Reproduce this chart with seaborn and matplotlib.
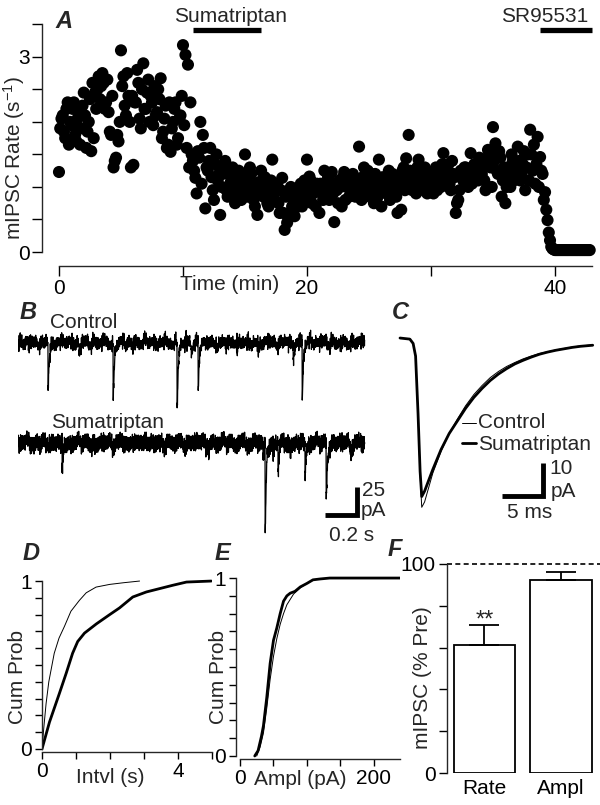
import numpy as np
import pandas as pd
import matplotlib
matplotlib.use("Agg")
import matplotlib.pyplot as plt
import seaborn as sns

# ---------------- data ----------------
# Panel A: mIPSC rate (s^-1). Two interleaved sample sets:
# rate_even at t = 0, 0.2, 0.4 ... min ; rate_odd at t = 0.1, 0.3, 0.5 ... min
rate_step_min = 0.2
rate_even = [
    1.23, 2.05, 1.85, 2.20, 1.65, 1.95, 2.30, 1.70, 2.15, 1.90,
    2.45, 1.60, 2.00, 1.55, 1.75, 2.20, 2.70, 2.55, 2.60, 2.30,
    2.15, 1.80, 1.30, 1.45, 1.70,
    3.10, 2.70, 2.10, 2.40, 1.30, 1.34, 2.30, 2.60, 1.90, 2.90,
    2.20, 2.65, 2.40, 1.95, 2.10, 2.50, 2.67, 1.85, 2.25, 1.65,
    1.54, 2.00, 2.30, 1.75, 2.10,
    3.18, 3.03, 2.88, 2.30, 1.40, 1.14, 1.55, 2.00, 1.80, 0.67,
    1.25, 1.60, 0.95, 1.35, 1.10, 0.57, 1.20, 1.40, 0.85, 1.05,
    1.30, 0.75, 1.15, 0.95, 1.20,
    1.50, 0.85, 1.30, 1.00, 0.70, 0.57, 1.08, 0.90, 1.15, 0.75,
    0.95, 1.42, 0.80, 1.05, 0.60, 1.14, 0.34, 0.45, 0.90, 0.70,
    0.55, 0.85, 1.00, 0.70, 1.10,
    1.42, 1.16, 0.75, 0.95, 1.05, 0.60, 0.90, 1.25, 1.00, 0.80,
    1.23, 0.46, 0.95, 1.10, 0.70, 1.23, 1.00, 0.85, 1.15, 0.90,
    1.10, 1.62, 0.80, 1.30, 1.00,
    0.95, 1.20, 0.75, 1.05, 1.42, 0.70, 1.10, 0.90, 1.25, 1.00,
    1.15, 0.85, 1.05, 0.65, 1.30, 1.44, 1.80, 1.00, 1.20, 0.90,
    1.42, 1.10, 0.95, 1.25, 1.05,
    1.20, 0.90, 1.30, 1.10, 1.00, 1.52, 1.15, 1.35, 0.95, 1.20,
    0.60, 0.80, 1.25, 1.10, 1.30, 1.00, 1.52, 1.20, 1.35, 1.10,
    1.25, 1.40, 0.95, 1.57, 1.30,
    1.92, 1.67, 1.20, 1.45, 1.10, 0.75, 1.30, 1.00, 1.40, 1.20,
    1.62, 1.10, 1.35, 0.95, 1.50, 1.88, 1.25, 1.05, 1.77, 1.46,
    1.20, 0.92, 0.49, 0.18, 0.05,
    0.03, 0.03, 0.03, 0.03, 0.03, 0.03, 0.03, 0.03, 0.03, 0.03,
    0.03, 0.03, 0.03, 0.03, 0.03,
]
rate_odd = [
    1.90, 2.10, 1.75, 2.30, 2.00, 2.20, 1.80, 2.05, 1.65, 2.25,
    2.10, 1.85, 2.35, 2.60, 2.45, 2.50, 2.35, 2.75, 2.20, 2.65,
    1.85, 2.40, 1.40, 1.80, 2.00,
    2.55, 2.25, 2.75, 2.00, 2.40, 2.30, 2.80, 2.05, 2.50, 2.20,
    2.45, 2.00, 2.30, 2.55, 2.15, 2.35, 1.75, 2.05, 1.60, 2.30,
    1.90, 2.20, 1.65, 2.05, 2.40,
    1.95, 1.60, 1.30, 1.50, 1.25, 0.90, 1.45, 1.05, 1.60, 1.30,
    1.40, 1.15, 0.80, 1.50, 1.20, 1.00, 1.30, 0.95, 1.20, 1.10,
    0.90, 1.05, 1.25, 0.80, 1.00,
    1.10, 0.95, 1.20, 0.80, 1.05, 0.90, 1.25, 0.85, 1.00, 0.70,
    1.10, 0.85, 1.00, 0.75, 0.95, 0.60, 0.85, 0.55, 1.00, 0.80,
    0.90, 0.70, 1.05, 0.80, 0.95,
    0.85, 1.10, 0.90, 0.70, 1.00, 1.05, 0.80, 0.95, 1.15, 0.85,
    0.90, 1.05, 0.75, 1.00, 1.15, 0.80, 1.05, 0.95, 1.20, 0.85,
    1.00, 0.90, 1.15, 0.85, 1.25,
    1.10, 0.90, 1.20, 0.85, 1.00, 1.15, 0.95, 1.05, 0.80, 1.20,
    0.90, 0.60, 1.10, 1.25, 0.95, 1.10, 1.25, 0.95, 1.15, 1.30,
    1.00, 1.20, 1.30, 0.90, 1.15,
    1.05, 1.25, 0.95, 1.20, 1.35, 1.10, 1.30, 1.05, 1.40, 1.15,
    0.75, 0.95, 1.15, 1.30, 1.20, 1.25, 1.05, 1.35, 1.15, 1.45,
    1.20, 1.10, 1.35, 1.50, 1.00,
    1.40, 1.25, 1.55, 0.85, 1.30, 1.00, 1.20, 1.50, 1.10, 1.35,
    1.40, 1.20, 1.55, 1.30, 1.10, 1.50, 1.65, 1.35, 1.00, 1.25,
    0.80, 0.65, 0.30, 0.08, 0.04,
    0.03, 0.03, 0.03, 0.03, 0.03, 0.03, 0.03, 0.03, 0.03, 0.03,
    0.03, 0.03, 0.03, 0.03,
]
sumatriptan_period = [10.8, 16.3]   # min
sr95531_period = [38.8, 43.0]       # min

# Panel B: events (time s, amplitude pA) in the two raw traces
ctrl_event_t = [0.06, 0.176, 0.31, 0.359, 0.559, 0.63, 0.935, 0.99, 1.018, 1.059,
                1.17, 1.288, 1.412, 1.618, 1.671, 1.90]
ctrl_event_a = [6, 44, 7, 10, 52, 6, 63, 8, 10, 42, 8, 11, 11, 16, 52, 6]
suma_event_t = [0.09, 0.259, 0.45, 0.83, 1.12, 1.44, 1.453, 1.50, 1.529, 1.60,
                1.688, 1.812, 1.95]
suma_event_a = [8, 25, 7, 6, 8, 14, 84, 13, 23, 10, 27, 53, 9]
trace_duration_s = 2.04

# Panel C: averaged mIPSCs (time ms, current pA)
avg_t = [0, 1.2, 1.6, 1.9, 2.2, 2.45, 2.65, 3.0, 3.5, 4, 5, 6, 7, 8, 9, 10,
         11, 12, 13, 14, 15, 16, 17, 18, 19, 20, 21, 22, 23.5]
avg_control = [0, -0.3, -1.5, -5, -22, -38, -47, -45.5, -41.5, -37.5, -31.5,
               -26.5, -22.5, -18.8, -15.7, -13.2, -11.0, -9.3, -7.9, -6.8,
               -5.8, -5.0, -4.3, -3.8, -3.3, -2.9, -2.5, -2.2, -1.9]
avg_suma = [0, -0.3, -1.5, -5, -21, -37, -44, -42.5, -39.5, -36.5, -31.0,
            -26.5, -23.0, -19.5, -16.5, -14.0, -11.8, -10.0, -8.5, -7.2,
            -6.2, -5.3, -4.5, -3.9, -3.4, -3.0, -2.6, -2.3, -2.0]

# Panel D: cumulative inter-event interval distributions
intvl_ctrl_x = [0, 0.05, 0.12, 0.2, 0.36, 0.5, 0.66, 0.85, 1.1, 1.3, 1.59, 1.99, 2.4, 2.87]
intvl_ctrl_y = [0, 0.12, 0.27, 0.40, 0.57, 0.66, 0.73, 0.82, 0.885, 0.93, 0.964, 0.98, 0.99, 1.0]
intvl_suma_x = [0, 0.22, 0.51, 0.71, 0.9, 1.05, 1.25, 1.6, 1.99, 2.28, 2.67, 3.07, 3.46, 3.85, 4.25, 4.98]
intvl_suma_y = [0, 0.16, 0.33, 0.45, 0.57, 0.64, 0.69, 0.745, 0.80, 0.84, 0.905, 0.935, 0.955, 0.975, 0.994, 1.0]

# Panel E: cumulative amplitude distributions
ampl_ctrl_x = [25, 30, 35, 40, 45, 50, 55, 60, 65, 70, 75, 80, 90, 100, 110, 120, 134, 150, 230]
ampl_ctrl_y = [0, 0.05, 0.13, 0.27, 0.43, 0.56, 0.66, 0.74, 0.80, 0.85, 0.88, 0.91, 0.945,
               0.97, 0.99, 0.995, 1.0, 1.0, 1.0]
ampl_suma_x = [22, 27, 32, 35, 40, 45, 50, 55, 60, 65, 70, 75, 82, 90, 100, 109, 120, 134, 150, 239]
ampl_suma_y = [0, 0.03, 0.11, 0.17, 0.33, 0.52, 0.65, 0.72, 0.80, 0.87, 0.90, 0.915, 0.925,
               0.95, 0.97, 0.99, 0.995, 1.0, 1.0, 1.0]

# Panel F: mIPSC during sumatriptan (% of pre)
bar_labels = ["Rate", "Ampl"]
bar_means = [61.2, 92.3]
bar_sems = [9.6, 3.9]

# texture for the baseline noise of the raw traces (normalised units)
NOISE = [0.12, -0.45, 0.78, -0.2, 0.33, -0.9, 0.05, 0.6, -0.35, -0.7, 0.42, 0.15,
         -0.08, 0.95, -0.55, 0.25, -0.15, 0.68, -0.82, 0.3, -0.4, 0.1, 0.55, -0.62,
         0.02, -0.28, 0.85, -0.05, 0.38, -0.75, 0.2, -0.5, 0.72, -0.12, 0.48, -0.95,
         0.18, 0.62, -0.3, -0.6, 0.4, 0.08, -0.22, 0.88, -0.48, 0.28, -0.1, 0.58,
         -0.78, 0.35, -0.38, 0.14, 0.5, -0.68, 0.06, -0.25, 0.8, -0.02, 0.45, -0.85, 0.22]

# ---------------- style ----------------
sns.set_style("ticks")
plt.rcParams['font.family'] = ['Liberation Sans', 'DejaVu Sans']
plt.rcParams['mathtext.default'] = 'regular'
FS = 15
plt.rcParams['font.size'] = FS
plt.rcParams['axes.linewidth'] = 1.0

W, H = 600, 805
fig = plt.figure(figsize=(6, 8.05), dpi=100)


def add_ax(x0, y0, x1, y1):
    return fig.add_axes([x0 / W, 1 - y1 / H, (x1 - x0) / W, (y1 - y0) / H])


def ftext(x, y, s, **kw):
    kw.setdefault('ha', 'center')
    kw.setdefault('va', 'center')
    kw.setdefault('fontsize', FS)
    fig.text(x / W, 1 - y / H, s, **kw)


def panel_label(x, y, s):
    ftext(x, y, s, fontsize=17, fontweight='bold', fontstyle='italic')


def style_ticks(ax, length=6):
    ax.tick_params(direction='out', length=length, width=1.0, labelsize=FS, pad=2,
                   color='black', labelcolor='black')


# ---------------- Panel A ----------------
axA = add_ax(42, 10, 598, 266)
t_even = np.arange(len(rate_even)) * rate_step_min
t_odd = np.arange(len(rate_odd)) * rate_step_min + rate_step_min / 2
dfA = pd.DataFrame({"time": np.concatenate([t_even, t_odd]),
                    "rate": rate_even + rate_odd})
sns.scatterplot(data=dfA, x="time", y="rate", ax=axA, s=76, color="black",
                edgecolor="none", linewidth=0, legend=False)
axA.set_xlim(-1.37, 43.47)
axA.set_ylim(-0.215, 3.72)
sns.despine(ax=axA)
axA.spines['left'].set_bounds(0, 3.5)
axA.spines['bottom'].set_bounds(0, 43)
axA.set_yticks(np.arange(0, 3.51, 0.5))
axA.set_yticklabels(['0', '', '', '', '', '', '3', ''])
axA.set_xticks([0, 10, 20, 30, 40])
axA.set_xticklabels(['0', '', '20', '', '40'])
axA.set_xlabel('')
axA.set_ylabel('')
style_ticks(axA, 7)
axA.plot(sumatriptan_period, [3.415, 3.415], color='black', lw=3.8,
         solid_capstyle='butt', clip_on=False)
axA.plot(sr95531_period, [3.415, 3.415], color='black', lw=3.8,
         solid_capstyle='butt', clip_on=False)
ftext(231, 16, 'Sumatriptan')
ftext(545, 16, 'SR95531')
ftext(230, 284, 'Time (min)')
ftext(14, 158, 'mIPSC Rate (s$^{-1}$)', rotation=90)
panel_label(64, 22, 'A')

# ---------------- Panel B ----------------
axB = add_ax(18, 300, 383, 550)
dt = 0.001
tB = np.arange(0, trace_duration_s, dt)
idx = np.arange(len(tB))
Narr = np.array(NOISE)
nN = len(Narr)
tau_r, tau_d = 0.0006, 0.006
t_pk = tau_r * tau_d / (tau_d - tau_r) * np.log(tau_d / tau_r)
k_norm = np.exp(-t_pk / tau_d) - np.exp(-t_pk / tau_r)


def build_trace(ev_t, ev_a, scale, phase, offset):
    y = scale * (0.55 * Narr[(idx + phase) % nN]
                 + 0.45 * Narr[(idx * 17 + 3 * phase + 5) % nN]
                 + 0.30 * Narr[(idx // 23 + phase) % nN])
    for te, a in zip(ev_t, ev_a):
        d = np.clip(tB - te, 0, None)
        k = np.where(tB > te, np.exp(-d / tau_d) - np.exp(-d / tau_r), 0)
        y = y - a * k / k_norm
    return y + offset


ctrl_trace = build_trace(ctrl_event_t, ctrl_event_a, 9.5, 0, 0.0)
suma_trace = build_trace(suma_event_t, suma_event_a, 11.0, 11, -89.3)
sns.lineplot(x=tB, y=ctrl_trace, ax=axB, color='black', lw=0.9, sort=False)
sns.lineplot(x=tB, y=suma_trace, ax=axB, color='black', lw=0.9, sort=False)
axB.set_xlim(0, 365 / 170)
axB.set_ylim(-184.8, 38.4)
axB.axis('off')
# scale bar 0.2 s / 25 pA
axB.plot([1.806, 1.994, 1.994], [-153.6, -153.6, -128.6], color='black', lw=3.5,
         solid_joinstyle='miter', solid_capstyle='butt', clip_on=False)
ftext(84, 323, 'Control')
ftext(108, 422, 'Sumatriptan')
ftext(374, 490, '25')
ftext(373, 511, 'pA')
ftext(352, 535, '0.2 s')
panel_label(28, 312, 'B')

# ---------------- Panel C ----------------
axC = add_ax(380, 300, 600, 530)
sns.lineplot(x=avg_t, y=avg_control, ax=axC, color='black', lw=0.7)
sns.lineplot(x=avg_t, y=avg_suma, ax=axC, color='black', lw=2.0)
axC.set_xlim(-2.44, 24.39)
axC.set_ylim(-53.3, 10.56)
axC.axis('off')
axC.plot([12.44, 17.44, 17.44], [-43.8, -43.8, -34.7], color='black', lw=3.5,
         solid_joinstyle='miter', solid_capstyle='butt', clip_on=False)
axC.plot([7.56, 9.27], [-23.6, -23.6], color='black', lw=0.7)
axC.plot([7.56, 9.27], [-29.2, -29.2], color='black', lw=2.0)
ftext(478, 423, 'Control', ha='left')
ftext(478, 444, 'Sumatriptan', ha='left')
ftext(561, 468, '10')
ftext(563, 491, 'pA')
ftext(530, 512, '5 ms')
panel_label(400, 312, 'C')

# ---------------- Panel D ----------------
axD = add_ax(42, 575, 212, 752)
sns.lineplot(x=intvl_ctrl_x, y=intvl_ctrl_y, ax=axD, color='black', lw=0.7)
sns.lineplot(x=intvl_suma_x, y=intvl_suma_y, ax=axD, color='black', lw=2.0)
axD.set_xlim(0, 5)
axD.set_ylim(-0.018, 1.036)
sns.despine(ax=axD)
axD.spines['left'].set_bounds(0, 1)
axD.spines['bottom'].set_bounds(0, 5)
axD.set_yticks(np.arange(0, 1.001, 0.1))
axD.set_yticklabels(['0'] + [''] * 9 + ['1'])
axD.set_xticks([0, 1, 2, 3, 4, 5])
axD.set_xticklabels(['0', '', '', '', '4', ''])
axD.set_xlabel('')
axD.set_ylabel('')
style_ticks(axD, 5)
ftext(110, 777, 'Intvl (s)')
ftext(18, 677, 'Cum Prob', rotation=90)
panel_label(31, 553, 'D')

# ---------------- Panel E ----------------
axE = add_ax(236, 572, 400, 759)
sns.lineplot(x=ampl_ctrl_x, y=ampl_ctrl_y, ax=axE, color='black', lw=0.7)
sns.lineplot(x=ampl_suma_x, y=ampl_suma_y, ax=axE, color='black', lw=2.0)
axE.set_xlim(-6, 239)
axE.set_ylim(-0.017, 1.034)
sns.despine(ax=axE)
axE.spines['left'].set_bounds(0, 1)
axE.spines['bottom'].set_bounds(0, 239)
axE.set_yticks(np.arange(0, 1.001, 0.1))
axE.set_yticklabels(['0'] + [''] * 9 + ['1'])
axE.set_xticks([0, 50, 100, 150, 200])
axE.set_xticklabels(['0', '', '', '', '200'])
axE.set_xlabel('')
axE.set_ylabel('')
style_ticks(axE, 5)
ftext(300, 779, 'Ampl (pA)')
ftext(218, 677, 'Cum Prob', rotation=90)
panel_label(222, 553, 'E')

# ---------------- Panel F ----------------
axF = add_ax(447, 555, 600, 773)
dfF = pd.DataFrame({"measure": bar_labels, "pct": bar_means})
sns.barplot(data=dfF, x="measure", y="pct", ax=axF, color='white',
            edgecolor='black', linewidth=1.3, errorbar=None, width=0.8, saturation=1)
axF.errorbar([0, 1], bar_means, yerr=[[0, 0], bar_sems], fmt='none', ecolor='black',
             elinewidth=1.3, capsize=11, capthick=1.3, zorder=3)
axF.set_xlim(-0.49, 1.51)
axF.set_ylim(0, 104.3)
axF.axhline(100, color='black', lw=1.2, ls=(0, (3, 2)), zorder=0)
sns.despine(ax=axF, bottom=True)
axF.spines['left'].set_bounds(0, 100)
axF.set_yticks([0, 20, 40, 60, 80, 100])
axF.set_yticklabels(['0', '', '', '', '', '100'])
axF.set_xlabel('')
axF.set_ylabel('')
style_ticks(axF, 6)
axF.tick_params(axis='x', length=0, pad=4)
axF.text(0, 73, '**', ha='center', va='center', fontsize=FS + 2)
ftext(422, 678, 'mIPSC (% Pre)', rotation=90)
panel_label(395, 550, 'F')

fig.savefig("out.png", dpi=100)
